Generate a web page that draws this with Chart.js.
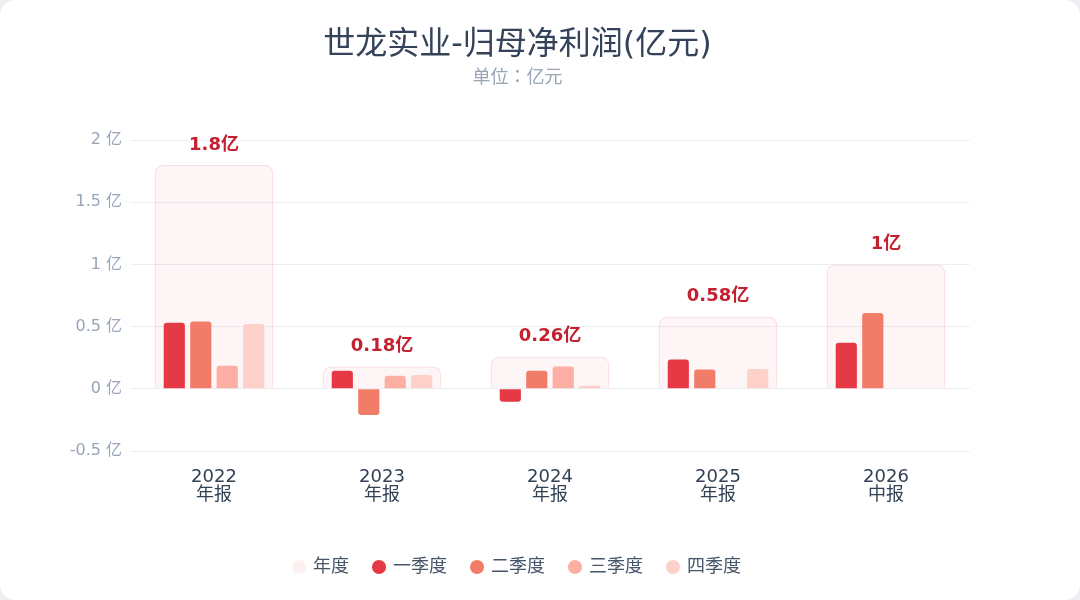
<!DOCTYPE html>
<html>
<head>
<meta charset="utf-8">
<script src="https://cdn.jsdelivr.net/npm/chart.js@4"></script>
<style>
	html, body { margin: 0; padding: 0; background: #eef0f3; }
	#card { width: 1080px; height: 600px; background: #fff; border-radius: 16px; overflow: hidden; }
</style>
</head>
<body>
<div id="card"><canvas id="chart" width="1080" height="600"></canvas></div>
<script>
const years = ['2022', '2023', '2024', '2025', '2026'];
const periods = ['年报', '年报', '年报', '年报', '中报'];
const annual = [1.8, 0.18, 0.26, 0.58, 1];
const q1 = [0.53, 0.145, -0.105, 0.235, 0.37];
const q2 = [0.54, -0.21, 0.145, 0.155, 0.61];
const q3 = [0.185, 0.105, 0.18, 0.004, null];
const q4 = [0.52, 0.11, 0.025, 0.16, null];
const yTicks = [-0.5, 0, 0.5, 1, 1.5, 2];

const FONT = '"DejaVu Sans", "Noto Sans CJK SC", sans-serif';
const CJK = '"Noto Sans CJK JP", "DejaVu Sans", sans-serif';

// labels above annual bars
const annualLabels = {
	id: 'annualLabels',
	afterDatasetsDraw(chart) {
		const meta = chart.getDatasetMeta(0);
		const ctx = chart.ctx;
		ctx.save();
		ctx.font = 'bold 18px ' + FONT;
		ctx.fillStyle = '#c4202f';
		ctx.textAlign = 'center';
		ctx.textBaseline = 'middle';
		meta.data.forEach((bar, i) => {
			ctx.fillText(annual[i] + '亿', bar.x, bar.y - 20);
		});
		ctx.restore();
	}
};

function quarter(label, data, color) {
	return {
		label: label,
		data: data,
		backgroundColor: color,
		borderRadius: 3,
		borderSkipped: 'start',
		categoryPercentage: 0.63,
		barPercentage: 0.8,
		order: 0
	};
}

new Chart(document.getElementById('chart'), {
	type: 'bar',
	data: {
		labels: years.map((y, i) => [y, periods[i]]),
		datasets: [
			{
				label: '年度',
				data: annual,
				backgroundColor: 'rgba(230,57,70,0.05)',
				borderColor: 'rgba(230,57,70,0.18)',
				borderWidth: 1,
				borderRadius: 8,
				borderSkipped: 'start',
				grouped: false,
				categoryPercentage: 1,
				barPercentage: 0.705,
				order: 1
			},
			quarter('一季度', q1, '#e63946'),
			quarter('二季度', q2, '#f17c67'),
			quarter('三季度', q3, '#fcafa2'),
			quarter('四季度', q4, '#fdd0c9')
		]
	},
	options: {
		responsive: false,
		animation: false,
		layout: { padding: { left: 65, right: 110, top: 0, bottom: 14 } },
		plugins: {
			title: {
				display: true,
				text: '世龙实业-归母净利润(亿元)',
				color: '#34435a',
				font: { family: FONT, size: 32, weight: 'normal' },
				padding: { top: 26, bottom: 1 }
			},
			subtitle: {
				display: true,
				text: '单位：亿元',
				color: '#98a4b8',
				font: { family: CJK, size: 18 },
				padding: { top: 0, bottom: 53 }
			},
			legend: {
				position: 'bottom',
				labels: {
					usePointStyle: true,
					pointStyle: 'circle',
					boxWidth: 10,
					boxHeight: 10,
					padding: 25,
					color: '#475569',
					font: { family: FONT, size: 18 },
					generateLabels(chart) {
						return chart.data.datasets.map((ds, i) => ({
							text: ds.label,
							fillStyle: i === 0 ? '#fcf0f0' : ds.backgroundColor,
							strokeStyle: i === 0 ? '#fcf0f0' : ds.backgroundColor,
							lineWidth: 0,
							pointStyle: 'circle',
							fontColor: '#475569',
							datasetIndex: i
						}));
					}
				}
			},
			tooltip: { enabled: false }
		},
		scales: {
			x: {
				grid: { display: false },
				border: { display: false },
				ticks: {
					color: '#334155',
					font: { family: FONT, size: 18, lineHeight: 1.0 },
					padding: 9
				},
				afterFit(scale) { scale.height = 82; }
			},
			y: {
				min: -0.5,
				max: 2,
				afterBuildTicks(scale) { scale.ticks = yTicks.map(v => ({ value: v })); },
				grid: { color: '#eceef3', lineWidth: 1, drawTicks: false },
				border: { display: false },
				ticks: {
					color: '#98a4b8',
					font: { family: FONT, size: 16 },
					padding: 8,
					callback: v => v + ' 亿'
				},
				afterFit(scale) { scale.width = 65; }
			}
		}
	},
	plugins: [annualLabels]
});
</script>
</body>
</html>
